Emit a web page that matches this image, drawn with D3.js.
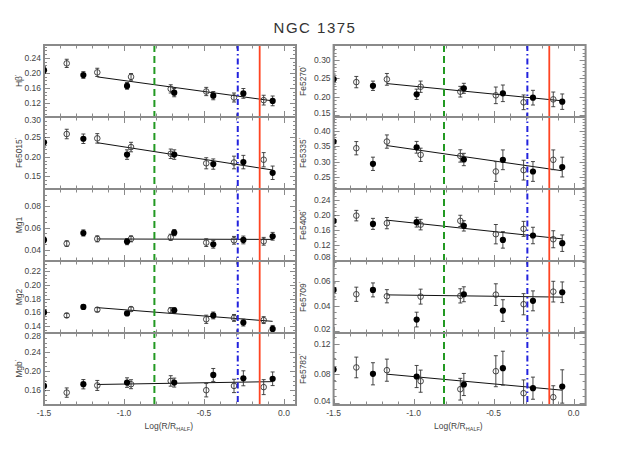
<!DOCTYPE html>
<html><head><meta charset="utf-8">
<script src="https://cdn.jsdelivr.net/npm/d3@7"></script>
<style>body{margin:0;background:#fff}svg{display:block}</style>
</head><body>
<script>
// ---- data ----
const filledX = [-1.5, -1.254, -0.981, -0.686, -0.442, -0.254, -0.071];
const openX   = [-1.358, -1.167, -0.956, -0.708, -0.486, -0.3125, -0.127];
const fitX    = [-1.167, -0.071];
const xTickLabels = ["-1.5", "-1.0", "-0.5", "0.0"];
const vLines = [-0.81, -0.289, -0.152];

const hbFilled = [0.207, 0.194, 0.165, 0.147, 0.139, 0.145, 0.125];
const hbFilledErr = [0.009, 0.009, 0.009, 0.011, 0.011, 0.013, 0.013];
const hbOpen = [0.225, 0.201, 0.189, 0.157, 0.150, 0.134, 0.127];
const hbOpenErr = [0.011, 0.011, 0.009, 0.011, 0.011, 0.012, 0.013];
const hbFit = [0.189, 0.125];
const hbTicks = [0.12, 0.16, 0.20, 0.24];

const fe5015Filled = [0.236, 0.245, 0.205, 0.205, 0.181, 0.186, 0.159];
const fe5015FilledErr = [0.012, 0.012, 0.012, 0.012, 0.013, 0.017, 0.017];
const fe5015Open = [0.257, 0.246, 0.224, 0.207, 0.183, 0.185, 0.192];
const fe5015OpenErr = [0.012, 0.012, 0.012, 0.012, 0.014, 0.016, 0.018];
const fe5015Fit = [0.235, 0.166];
const fe5015Ticks = [0.15, 0.20, 0.25, 0.30];

const mg1Filled = [0.049, 0.0553, 0.0475, 0.0556, 0.0451, 0.049, 0.0523];
const mg1FilledErr = [0.0025, 0.0028, 0.0028, 0.0028, 0.0035, 0.0035, 0.0035];
const mg1Open = [0.0457, 0.050, 0.050, 0.0514, 0.0466, 0.0487, 0.0478];
const mg1OpenErr = [0.0025, 0.0027, 0.0027, 0.0028, 0.0035, 0.0035, 0.0035];
const mg1Fit = [0.0499, 0.0495];
const mg1Ticks = [0.04, 0.06, 0.08];

const mg2Filled = [0.160, 0.168, 0.1585, 0.163, 0.1556, 0.1452, 0.136];
const mg2FilledErr = [0.003, 0.003, 0.003, 0.004, 0.005, 0.005, 0.005];
const mg2Open = [0.1556, 0.164, 0.1649, 0.163, 0.150, 0.152, 0.1488];
const mg2OpenErr = [0.003, 0.003, 0.003, 0.004, 0.006, 0.005, 0.005];
const mg2Fit = [0.167, 0.147];
const mg2Ticks = [0.14, 0.16, 0.18, 0.20, 0.22];

const mgbFilled = [0.169, 0.1726, 0.176, 0.176, 0.192, 0.185, 0.184];
const mgbFilledErr = [0.010, 0.0098, 0.010, 0.0094, 0.0136, 0.0157, 0.0143];
const mgbOpen = [0.155, 0.170, 0.1726, 0.1795, 0.160, 0.169, 0.1665];
const mgbOpenErr = [0.0098, 0.0105, 0.0094, 0.011, 0.014, 0.014, 0.0157];
const mgbFit = [0.172, 0.178];
const mgbTicks = [0.16, 0.20, 0.24, 0.28];

const fe5270Filled = [0.248, 0.230, 0.2068, 0.2231, 0.2095, 0.1976, 0.1867];
const fe5270FilledErr = [0.014, 0.0127, 0.014, 0.0136, 0.0226, 0.020, 0.021];
const fe5270Open = [0.240, 0.2475, 0.2274, 0.2139, 0.204, 0.185, 0.193];
const fe5270OpenErr = [0.0154, 0.016, 0.0154, 0.0145, 0.0226, 0.020, 0.020];
const fe5270Fit = [0.236, 0.189];
const fe5270Ticks = [0.15, 0.20, 0.25, 0.30];

const fe5335Filled = [0.3655, 0.2935, 0.347, 0.3074, 0.3065, 0.2687, 0.283];
const fe5335FilledErr = [0.020, 0.0215, 0.019, 0.020, 0.032, 0.032, 0.032];
const fe5335Open = [0.344, 0.3655, 0.3226, 0.319, 0.2687, 0.273, 0.3065];
const fe5335OpenErr = [0.0215, 0.0215, 0.0215, 0.020, 0.032, 0.032, 0.032];
const fe5335Fit = [0.3526, 0.271];
const fe5335Ticks = [0.25, 0.30, 0.35, 0.40];

const fe5406Filled = [0.184, 0.176, 0.1805, 0.1707, 0.1333, 0.145, 0.1245];
const fe5406FilledErr = [0.014, 0.0147, 0.013, 0.0138, 0.022, 0.022, 0.022];
const fe5406Open = [0.198, 0.178, 0.174, 0.184, 0.1485, 0.1627, 0.135];
const fe5406OpenErr = [0.014, 0.015, 0.014, 0.015, 0.0258, 0.020, 0.0227];
const fe5406Fit = [0.186, 0.136];
const fe5406Ticks = [0.08, 0.12, 0.16, 0.20, 0.24];

const fe5709Filled = [0.0526, 0.0526, 0.0288, 0.0491, 0.036, 0.0438, 0.0507];
const fe5709FilledErr = [0.0056, 0.0056, 0.0059, 0.006, 0.0087, 0.008, 0.0083];
const fe5709Open = [0.0491, 0.0475, 0.0472, 0.0478, 0.0488, 0.0411, 0.0512];
const fe5709OpenErr = [0.0057, 0.0053, 0.006, 0.0057, 0.0087, 0.0085, 0.0083];
const fe5709Fit = [0.0486, 0.0468];
const fe5709Ticks = [0.02, 0.04, 0.06];

const fe5782Filled = [0.0858, 0.080, 0.0763, 0.0655, 0.0876, 0.0605, 0.0628];
const fe5782FilledErr = [0.015, 0.015, 0.015, 0.015, 0.023, 0.015, 0.0226];
const fe5782Open = [0.0886, 0.0849, 0.070, 0.0591, 0.0835, 0.0537, 0.0483];
const fe5782OpenErr = [0.014, 0.015, 0.015, 0.0147, 0.021, 0.018, 0.0155];
const fe5782Fit = [0.0795, 0.0578];
const fe5782Ticks = [0.04, 0.08, 0.12];

// ---- panel config ----
const panels = [
  {col:0,row:0,name:"Hβ",prime:true,dom:[0.082,0.274],minor:0.01,f:hbFilled,fe:hbFilledErr,o:hbOpen,oe:hbOpenErr,fit:hbFit,ticks:hbTicks},
  {col:0,row:1,name:"Fe5015",prime:true,dom:[0.118,0.30],minor:0.01,f:fe5015Filled,fe:fe5015FilledErr,o:fe5015Open,oe:fe5015OpenErr,fit:fe5015Fit,ticks:fe5015Ticks},
  {col:0,row:2,name:"Mg1",prime:false,dom:[0.030,0.095],minor:0.005,f:mg1Filled,fe:mg1FilledErr,o:mg1Open,oe:mg1OpenErr,fit:mg1Fit,ticks:mg1Ticks},
  {col:0,row:3,name:"Mg2",prime:false,dom:[0.130,0.235],minor:0.005,f:mg2Filled,fe:mg2FilledErr,o:mg2Open,oe:mg2OpenErr,fit:mg2Fit,ticks:mg2Ticks},
  {col:0,row:4,name:"Mgb",prime:true,dom:[0.129,0.28],minor:0.01,f:mgbFilled,fe:mgbFilledErr,o:mgbOpen,oe:mgbOpenErr,fit:mgbFit,ticks:mgbTicks},
  {col:1,row:0,name:"Fe5270",prime:true,dom:[0.145,0.341],minor:0.01,f:fe5270Filled,fe:fe5270FilledErr,o:fe5270Open,oe:fe5270OpenErr,fit:fe5270Fit,ticks:fe5270Ticks},
  {col:1,row:1,name:"Fe5335",prime:true,dom:[0.212,0.445],minor:0.01,f:fe5335Filled,fe:fe5335FilledErr,o:fe5335Open,oe:fe5335OpenErr,fit:fe5335Fit,ticks:fe5335Ticks},
  {col:1,row:2,name:"Fe5406",prime:true,dom:[0.077,0.269],minor:0.01,f:fe5406Filled,fe:fe5406FilledErr,o:fe5406Open,oe:fe5406OpenErr,fit:fe5406Fit,ticks:fe5406Ticks},
  {col:1,row:3,name:"Fe5709",prime:true,dom:[0.018,0.0758],minor:0.005,f:fe5709Filled,fe:fe5709FilledErr,o:fe5709Open,oe:fe5709OpenErr,fit:fe5709Fit,ticks:fe5709Ticks},
  {col:1,row:4,name:"Fe5782",prime:true,dom:[0.0377,0.1353],minor:0.01,f:fe5782Filled,fe:fe5782FilledErr,o:fe5782Open,oe:fe5782OpenErr,fit:fe5782Fit,ticks:fe5782Ticks}
];

const W = 630, H = 450;
const colX = [44, 333.6], colW = 252;
const top0 = 45, rowH = 72, nRows = 5;
const axisColor = "#8a8a8a", textColor = "#444";
const font = "Helvetica, 'Liberation Sans', Arial, sans-serif";

const svg = d3.select("body").append("svg").attr("width", W).attr("height", H)
  .style("font-family", font);

svg.append("text").attr("x", 315).attr("y", 33).attr("text-anchor", "middle")
  .attr("font-size", 15).attr("letter-spacing", 1.5).attr("fill", "#333").text("NGC 1375");

const defs = svg.append("defs");

[0, 1].forEach(col => {
  const x = d3.scaleLinear().domain([-1.5, 0.075]).range([colX[col], colX[col] + colW]);
  const colPanels = panels.filter(p => p.col === col);

  colPanels.forEach(p => {
    const y0 = top0 + p.row * rowH, y1 = y0 + rowH;
    const y = d3.scaleLinear().domain(p.dom).range([y1, y0]);
    const g = svg.append("g");
    const clipId = "clip" + col + p.row;
    defs.append("clipPath").attr("id", clipId).append("rect")
      .attr("x", colX[col]).attr("y", y0).attr("width", colW).attr("height", rowH);

    // minor/major y ticks (left & right, inward)
    const minorVals = d3.range(Math.ceil(p.dom[0] / p.minor - 1e-6), Math.floor(p.dom[1] / p.minor + 1e-6) + 1)
      .map(k => +(k * p.minor).toFixed(4));
    const isMajor = v => p.ticks.some(t => Math.abs(t - v) < 1e-6);
    const tg = g.append("g").attr("stroke", axisColor).attr("stroke-width", 1);
    minorVals.forEach(v => {
      const len = isMajor(v) ? 6 : 3;
      const yy = Math.round(y(v)) + 0.5;
      tg.append("line").attr("x1", colX[col]).attr("x2", colX[col] + len).attr("y1", yy).attr("y2", yy);
      tg.append("line").attr("x1", colX[col] + colW).attr("x2", colX[col] + colW - len).attr("y1", yy).attr("y2", yy);
    });
    // x ticks top & bottom
    d3.range(-15, 1).map(k => k / 10).forEach(v => {
      const major = Math.abs(v * 2 - Math.round(v * 2)) < 1e-6;
      const len = major ? 6 : 3.5;
      const xx = Math.round(x(v)) + 0.5;
      tg.append("line").attr("x1", xx).attr("x2", xx).attr("y1", y0).attr("y2", y0 + len);
      tg.append("line").attr("x1", xx).attr("x2", xx).attr("y1", y1).attr("y2", y1 - len);
    });

    // y tick labels (nudged inward at panel edges so neighbours do not collide)
    g.selectAll(".yl").data(p.ticks).join("text")
      .attr("x", colX[col] - 3)
      .attr("y", d => Math.min(Math.max(y(d), y0 + 3.5), y1 - 3.5)).attr("dy", "0.35em")
      .attr("text-anchor", "end").attr("font-size", 8.5).attr("fill", textColor)
      .text(d => d3.format(".2f")(d));

    // y title
    const tx = col === 0 ? 22 : 306, ty = (y0 + y1) / 2;
    const t = g.append("text").attr("transform", `translate(${tx},${ty}) rotate(-90)`)
      .attr("text-anchor", "middle").attr("font-size", 8.5).attr("fill", textColor);
    t.append("tspan").text(p.name);
    if (p.prime) t.append("tspan").attr("dy", -3).attr("font-size", 6).text("'");

    // data
    const dg = g.append("g").attr("clip-path", `url(#${clipId})`);
    dg.append("line").attr("x1", x(fitX[0])).attr("x2", x(fitX[1]))
      .attr("y1", y(p.fit[0])).attr("y2", y(p.fit[1]))
      .attr("stroke", "#111").attr("stroke-width", 1);

    const drawErr = (xs, vs, es) => {
      xs.forEach((xv, i) => {
        const cx = x(xv), ya = y(vs[i] - es[i]), yb = y(vs[i] + es[i]);
        dg.append("line").attr("x1", cx).attr("x2", cx).attr("y1", ya).attr("y2", yb)
          .attr("stroke", "#333").attr("stroke-width", 0.9);
        [ya, yb].forEach(yy => dg.append("line").attr("x1", cx - 2).attr("x2", cx + 2)
          .attr("y1", yy).attr("y2", yy).attr("stroke", "#333").attr("stroke-width", 0.9));
      });
    };
    drawErr(openX, p.o, p.oe);
    drawErr(filledX, p.f, p.fe);
    dg.selectAll(".op").data(openX).join("circle")
      .attr("cx", d => x(d)).attr("cy", (d, i) => y(p.o[i])).attr("r", 2.8)
      .attr("fill", "none").attr("stroke", "#333").attr("stroke-width", 0.9);
    dg.selectAll(".fp").data(filledX).join("circle")
      .attr("cx", d => x(d)).attr("cy", (d, i) => y(p.f[i])).attr("r", 3.1)
      .attr("fill", "#000");
  });

  // vertical lines
  const yTop = top0, yBot = top0 + nRows * rowH;
  svg.append("line").attr("x1", x(vLines[0])).attr("x2", x(vLines[0])).attr("y1", yTop).attr("y2", yBot)
    .attr("stroke", "#229922").attr("stroke-width", 2).attr("stroke-dasharray", "7,4");
  svg.append("line").attr("x1", x(vLines[1])).attr("x2", x(vLines[1])).attr("y1", yTop).attr("y2", yBot)
    .attr("stroke", "#2222dd").attr("stroke-width", 2).attr("stroke-dasharray", "6,3,1.5,3");
  svg.append("line").attr("x1", x(vLines[2])).attr("x2", x(vLines[2])).attr("y1", yTop).attr("y2", yBot)
    .attr("stroke", "#ff4422").attr("stroke-width", 1.8);

  // borders
  const bg = svg.append("g").attr("stroke", axisColor).attr("stroke-width", 2).attr("fill", "none");
  bg.append("rect").attr("x", colX[col]).attr("y", yTop).attr("width", colW).attr("height", yBot - yTop);
  d3.range(1, nRows).forEach(r => bg.append("line").attr("x1", colX[col]).attr("x2", colX[col] + colW)
    .attr("y1", top0 + r * rowH).attr("y2", top0 + r * rowH));

  // x tick labels
  svg.selectAll(".xl" + col).data(xTickLabels).join("text")
    .attr("x", d => x(+d)).attr("y", yBot + 11).attr("text-anchor", "middle")
    .attr("font-size", 8.5).attr("fill", textColor).text(d => d);
  // x title
  const xt = svg.append("text").attr("x", x(-0.72)).attr("y", yBot + 24).attr("text-anchor", "middle")
    .attr("font-size", 8.5).attr("fill", textColor);
  xt.append("tspan").text("Log(R/R");
  xt.append("tspan").attr("font-size", 5.5).attr("dy", 2).text("HALF");
  xt.append("tspan").attr("dy", -2).text(")");
});
</script>
</body></html>
